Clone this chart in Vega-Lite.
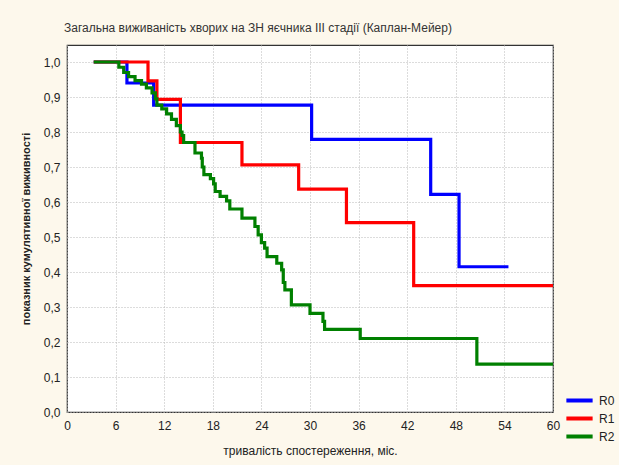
{
  "$schema": "https://vega.github.io/schema/vega-lite/v6.json",
  "width": 486,
  "height": 367,
  "autosize": "none",
  "padding": {"left": 67, "top": 45, "right": 66, "bottom": 53},
  "background": "#fdf8ec",
  "title": {
    "text": "Загальна виживаність хворих на ЗН яєчника  III стадії (Каплан-Мейер)",
    "anchor": "start",
    "frame": "group",
    "dx": -3,
    "offset": 10,
    "font": "Liberation Sans",
    "fontSize": 12,
    "fontWeight": "normal",
    "color": "#333333"
  },
  "config": {
    "view": {"stroke": "#333333", "strokeWidth": 1.2, "fill": "#ffffff"},
    "axis": {
      "labelFont": "Liberation Sans",
      "labelFontSize": 12,
      "labelColor": "#222222",
      "titleFont": "Liberation Sans",
      "titleColor": "#222222",
      "grid": true,
      "gridColor": "#b8b8b8",
      "gridDash": [1, 2],
      "gridWidth": 1,
      "domain": false,
      "ticks": false
    },
    "legend": {
      "labelFont": "Liberation Sans",
      "labelFontSize": 12,
      "labelColor": "#222222"
    }
  },
  "data": {
    "values": [
      {"g": "R0", "t": 3.3, "s": 1.0},
      {"g": "R0", "t": 7.4, "s": 0.94},
      {"g": "R0", "t": 10.7, "s": 0.877},
      {"g": "R0", "t": 30.2, "s": 0.779},
      {"g": "R0", "t": 44.9, "s": 0.622},
      {"g": "R0", "t": 48.4, "s": 0.415},
      {"g": "R0", "t": 54.5, "s": 0.415},
      {"g": "R1", "t": 3.3, "s": 1.0},
      {"g": "R1", "t": 10.0, "s": 0.946},
      {"g": "R1", "t": 11.1, "s": 0.893},
      {"g": "R1", "t": 14.0, "s": 0.77},
      {"g": "R1", "t": 21.6, "s": 0.706},
      {"g": "R1", "t": 28.6, "s": 0.637},
      {"g": "R1", "t": 34.5, "s": 0.541},
      {"g": "R1", "t": 42.8, "s": 0.361},
      {"g": "R1", "t": 60.0, "s": 0.361},
      {"g": "R2", "t": 3.3, "s": 1.0},
      {"g": "R2", "t": 6.4, "s": 0.985},
      {"g": "R2", "t": 7.0, "s": 0.97},
      {"g": "R2", "t": 7.6, "s": 0.958},
      {"g": "R2", "t": 8.4, "s": 0.947},
      {"g": "R2", "t": 9.2, "s": 0.937},
      {"g": "R2", "t": 9.8, "s": 0.926},
      {"g": "R2", "t": 10.5, "s": 0.912},
      {"g": "R2", "t": 10.9, "s": 0.895},
      {"g": "R2", "t": 11.1, "s": 0.877},
      {"g": "R2", "t": 11.7, "s": 0.866},
      {"g": "R2", "t": 12.3, "s": 0.852},
      {"g": "R2", "t": 12.9, "s": 0.836},
      {"g": "R2", "t": 13.5, "s": 0.818},
      {"g": "R2", "t": 14.0, "s": 0.8},
      {"g": "R2", "t": 14.2, "s": 0.79},
      {"g": "R2", "t": 14.4, "s": 0.77},
      {"g": "R2", "t": 15.8, "s": 0.74},
      {"g": "R2", "t": 16.6, "s": 0.725},
      {"g": "R2", "t": 16.7, "s": 0.7},
      {"g": "R2", "t": 16.9, "s": 0.678},
      {"g": "R2", "t": 17.7, "s": 0.667},
      {"g": "R2", "t": 18.1, "s": 0.652},
      {"g": "R2", "t": 18.3, "s": 0.63},
      {"g": "R2", "t": 18.9, "s": 0.616},
      {"g": "R2", "t": 19.7, "s": 0.603},
      {"g": "R2", "t": 20.1, "s": 0.58},
      {"g": "R2", "t": 21.6, "s": 0.554},
      {"g": "R2", "t": 23.2, "s": 0.53},
      {"g": "R2", "t": 23.6, "s": 0.506},
      {"g": "R2", "t": 24.0, "s": 0.484},
      {"g": "R2", "t": 24.4, "s": 0.468},
      {"g": "R2", "t": 24.7, "s": 0.444},
      {"g": "R2", "t": 25.9, "s": 0.425},
      {"g": "R2", "t": 26.5, "s": 0.406},
      {"g": "R2", "t": 26.7, "s": 0.37},
      {"g": "R2", "t": 26.9, "s": 0.349},
      {"g": "R2", "t": 27.7, "s": 0.306},
      {"g": "R2", "t": 30.0, "s": 0.282},
      {"g": "R2", "t": 31.6, "s": 0.259},
      {"g": "R2", "t": 31.8, "s": 0.236},
      {"g": "R2", "t": 36.2, "s": 0.21},
      {"g": "R2", "t": 50.6, "s": 0.137},
      {"g": "R2", "t": 60.0, "s": 0.137}
    ]
  },
  "mark": {"type": "line", "interpolate": "step-after", "strokeWidth": 3.2, "clip": true},
  "encoding": {
    "x": {
      "field": "t",
      "type": "quantitative",
      "scale": {"domain": [0, 60], "nice": false, "zero": false},
      "axis": {
        "values": [0, 6, 12, 18, 24, 30, 36, 42, 48, 54, 60],
        "title": "тривалість спостереження, міс.",
        "titleFontSize": 12,
        "titleFontWeight": "normal",
        "titlePadding": 14,
        "labelPadding": 8,
        "labelFlush": false
      }
    },
    "y": {
      "field": "s",
      "type": "quantitative",
      "scale": {"domain": [0, 1.0486], "nice": false, "zero": false},
      "axis": {
        "values": [0, 0.1, 0.2, 0.3, 0.4, 0.5, 0.6, 0.7, 0.8, 0.9, 1.0],
        "labelExpr": "replace(format(datum.value, '.1f'), '.', ',')",
        "title": "показник кумулятивної виживності",
        "titleFontSize": 11,
        "titleFontWeight": "bold",
        "titlePadding": 12,
        "labelPadding": 7,
        "labelFlush": false
      }
    },
    "color": {
      "field": "g",
      "type": "nominal",
      "scale": {"domain": ["R0", "R1", "R2"], "range": ["#0000ff", "#ff0000", "#008000"]},
      "legend": {
        "title": null,
        "orient": "none",
        "legendX": 503,
        "legendY": 346,
        "symbolType": "M-1.75,0H1.75",
        "symbolSize": 225,
        "symbolStrokeWidth": 4,
        "labelOffset": 10,
        "rowPadding": 0
      }
    },
    "order": {"field": "t", "type": "quantitative"}
  }
}
